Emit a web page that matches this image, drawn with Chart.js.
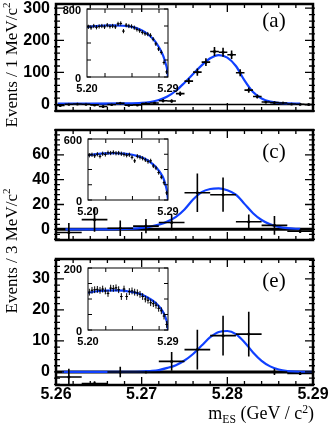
<!DOCTYPE html>
<html>
<head>
<meta charset="utf-8">
<script src="https://cdn.jsdelivr.net/npm/chart.js@4.4.0/dist/chart.umd.min.js"></script>
<style>
body { margin: 0; background: #fff; }
#wrap { position: relative; width: 332px; height: 429px; overflow: hidden; font-family: 'Liberation Serif', serif; }
canvas { position: absolute; }
.txt { position: absolute; white-space: nowrap; line-height: 1; color: #000; }
.rot { transform: translate(-50%, -50%) rotate(-90deg); font-size: 17px; }
.lab { transform: translate(-50%, -50%); font-size: 21px; }
sup { font-size: 0.65em; vertical-align: 0.55em; line-height: 0; }
sub { font-size: 0.65em; vertical-align: -0.3em; line-height: 0; }
</style>
</head>
<body>
<div id="wrap">
  <canvas id="mainA"></canvas>
  <canvas id="mainC"></canvas>
  <canvas id="mainE"></canvas>
  <canvas id="insetA"></canvas>
  <canvas id="insetC"></canvas>
  <canvas id="insetE"></canvas>
  <div class="txt rot" style="left:11px;top:65px">Events / 1 MeV/c<sup>2</sup></div>
  <div class="txt rot" style="left:11px;top:251px">Events / 3 MeV/c<sup>2</sup></div>
  <div class="txt lab" style="left:274px;top:20px">(a)</div>
  <div class="txt lab" style="left:274px;top:151px">(c)</div>
  <div class="txt lab" style="left:274px;top:280px">(e)</div>
  <div class="txt" style="right:18px;top:404px;font-size:18px">m<sub>ES</sub> (GeV / c<sup>2</sup>)</div>
</div>
<script>
// x axis of the main panels
const xTickVals = [5.26, 5.27, 5.28, 5.29];
const xTickLabels = ['5.26', '5.27', '5.28', '5.29'];

// panel (a): 1 MeV bins
const binsA = [5.2605, 5.2615, 5.2625, 5.2635, 5.2645, 5.2655, 5.2665, 5.2675, 5.2685, 5.2695,
               5.2705, 5.2715, 5.2725, 5.2735, 5.2745, 5.2755, 5.2765, 5.2775, 5.2785, 5.2795,
               5.2805, 5.2815, 5.2825, 5.2835, 5.2845, 5.2855, 5.2865, 5.2875, 5.2885, 5.2895];
const countsA = [-3, 1, 2, 1, -1, -6, 0, 4, -2, -1, 3, 5, 12, 11, 34, 73, 101, 132, 165, 163,
                 155, 99, 45, 25, 8, 6, 5, 2, 1, 0];
const errA = [3, 3, 3, 3, 3, 3, 3, 4, 3, 3, 4, 4, 5, 5, 7, 9, 11, 12, 14, 14,
              13, 11, 8, 6, 4, 4, 3, 3, 3, 2];
const fitXA = [5.2602, 5.264, 5.268, 5.270, 5.271, 5.272, 5.273, 5.274, 5.275, 5.276, 5.277,
               5.278, 5.279, 5.280, 5.281, 5.282, 5.283, 5.284, 5.285, 5.286, 5.287, 5.2885];
const fitYA = [3, 3, 3.5, 5, 8, 14, 25, 43, 68, 95, 122, 144, 154, 146, 120, 75, 39, 19, 9, 5, 3.5, 3];
const yTicksA = [0, 100, 200, 300];
const yLabelsA = ['0', '100', '200', '300'];

// panels (c) and (e): 3 MeV bins
const binsCE = [5.2615, 5.2645, 5.2675, 5.2705, 5.2735, 5.2765, 5.2795, 5.2825, 5.2855, 5.2885];
const countsC = [-2.5, 7.8, 0.9, 2.6, 5.5, 29.5, 27.9, 6.1, 3.2, -1.5];
const errC = [7.5, 9.8, 6.3, 5.8, 6.3, 15.5, 13.8, 5.8, 7.5, 1.5];
const fitXC = [5.2611, 5.266, 5.269, 5.270, 5.271, 5.272, 5.273, 5.274, 5.275, 5.276, 5.277,
               5.278, 5.279, 5.280, 5.281, 5.282, 5.283, 5.284, 5.285, 5.286, 5.287, 5.2885];
const fitYC = [0, 0, 0.6, 1.2, 2.2, 3.8, 6.2, 10, 16, 24, 30, 32.5, 33, 31.5, 28, 20.5, 13, 7.5, 4, 2, 0.9, 0.3];
const yTicksC = [0, 20, 40, 60];
const yLabelsC = ['0', '20', '40', '60'];

const countsE = [-1.6, -3.7, 0, 0, 3.4, 7.2, 11.7, 12.2, 0, -0.5];
const errE = [2.6, 0.7, 1.7, 0.3, 3, 6.4, 6.4, 7.2, 1, 0.5];
const fitXE = [5.2607, 5.266, 5.270, 5.271, 5.272, 5.273, 5.274, 5.275, 5.276, 5.277, 5.278,
               5.279, 5.280, 5.281, 5.282, 5.283, 5.284, 5.285, 5.286, 5.287, 5.288, 5.29];
const fitYE = [0, 0, 0.1, 0.3, 0.6, 1.3, 2.2, 3.7, 5.8, 8.5, 11.2, 12.9, 13.2, 12.2, 9.6, 6.3, 3.6, 1.8, 0.8, 0.3, 0.1, 0];
const yTicksE = [0, 10, 20, 30];
const yLabelsE = ['0', '10', '20', '30'];

// insets: wide mES range, 3 MeV bins
const insetBins = [5.2015, 5.2045, 5.2075, 5.2105, 5.2135, 5.2165, 5.2195, 5.2225, 5.2255, 5.2285,
                   5.2315, 5.2345, 5.2375, 5.2405, 5.2435, 5.2465, 5.2495, 5.2525, 5.2555, 5.2585,
                   5.2615, 5.2645, 5.2675, 5.2705, 5.2735, 5.2765, 5.2795, 5.2825, 5.2855, 5.2885];
const insetCountsA = [590, 580, 600, 585, 595, 600, 590, 610, 595, 600, 590, 625, 630, 540, 610,
                      600, 595, 580, 560, 545, 525, 510, 505, 490, 445, 390, 330, 290, 170, 60];
const insetCountsC = [440, 445, 435, 450, 430, 455, 448, 465, 462, 468, 460, 462, 455, 448, 440,
                      445, 420, 385, 430, 420, 410, 395, 378, 385, 335, 315, 270, 225, 170, 70];
const insetCountsE = [122, 128, 130, 131, 128, 132, 126, 118, 135, 134, 136, 130, 108, 132, 108,
                      124, 126, 122, 120, 115, 108, 100, 96, 88, 85, 80, 70, 62, 45, 18];
const insetFitX = [5.20, 5.21, 5.22, 5.23, 5.24, 5.25, 5.255, 5.26, 5.265, 5.27, 5.275, 5.28,
                   5.283, 5.285, 5.287, 5.289, 5.29];
const insetFitA = [588, 600, 606, 607, 603, 590, 575, 552, 522, 482, 428, 350, 290, 240, 172, 90, 0];
const insetFitC = [440, 452, 458, 460, 457, 445, 434, 420, 400, 372, 336, 285, 245, 210, 155, 80, 0];
const insetFitE = [120, 125, 127, 128, 127, 122, 119, 115, 108, 100, 90, 76, 65, 55, 42, 22, 0];
const insetXTicks = [5.20, 5.29];
const insetXLabels = ['5.20', '5.29'];

const BLUE = '#1040ff';
const SANS = 'Liberation Sans';

function pts(xs, ys) {
    return xs.map((x, i) => ({ x: x, y: ys[i] }));
}

function place(id, left, top, w, h) {
    const c = document.getElementById(id);
    c.width = w;
    c.height = h;
    c.style.left = left + 'px';
    c.style.top = top + 'px';
    c.style.width = w + 'px';
    c.style.height = h + 'px';
    return c;
}

function tickLoop(min, max, step, fn) {
    const n0 = Math.ceil(min / step - 1e-6), n1 = Math.floor(max / step + 1e-6);
    for (let n = n0; n <= n1; n++) fn(n * step);
}

// frame, inward ticks and zero line (ROOT style)
const framePlugin = {
    id: 'frame',
    beforeDatasetsDraw(chart, args, o) {
        if (!o.zeroWidth) return;
        const { ctx, chartArea: a, scales: { y } } = chart;
        const py = y.getPixelForValue(0);
        ctx.save();
        ctx.strokeStyle = '#000';
        ctx.lineWidth = o.zeroWidth;
        ctx.beginPath();
        ctx.moveTo(a.left, py);
        ctx.lineTo(a.right, py);
        ctx.stroke();
        ctx.restore();
    },
    afterDraw(chart, args, o) {
        const { ctx, chartArea: a, scales: { x, y } } = chart;
        ctx.save();
        ctx.strokeStyle = '#000';
        ctx.lineWidth = o.tickWidth;
        ctx.beginPath();
        [[o.xMinor, o.minorLen], [o.xMajor, o.majorLen]].forEach(([step, len]) => {
            if (!step) return;
            tickLoop(x.min, x.max, step, v => {
                const px = x.getPixelForValue(v);
                ctx.moveTo(px, a.bottom); ctx.lineTo(px, a.bottom - len);
                ctx.moveTo(px, a.top); ctx.lineTo(px, a.top + len);
            });
        });
        [[o.yMinor, o.minorLen], [o.yMajor, o.majorLen]].forEach(([step, len]) => {
            if (!step) return;
            tickLoop(y.min, y.max, step, v => {
                const py = y.getPixelForValue(v);
                ctx.moveTo(a.left - o.outLen, py); ctx.lineTo(a.left + len, py);
                ctx.moveTo(a.right + o.outLen, py); ctx.lineTo(a.right - len, py);
            });
        });
        ctx.stroke();
        ctx.lineWidth = o.frameWidth;
        ctx.strokeRect(a.left, a.top, a.width, a.height);
        ctx.restore();
    }
};

// crosses: bin width horizontally, error vertically
const errorBarPlugin = {
    id: 'errorBars',
    afterDatasetsDraw(chart) {
        const { ctx, chartArea: a, scales: { x, y } } = chart;
        ctx.save();
        ctx.beginPath();
        ctx.rect(a.left, a.top, a.width, a.height);
        ctx.clip();
        chart.data.datasets.forEach(ds => {
            if (ds.errY === undefined) return;
            ctx.strokeStyle = '#000';
            ctx.lineWidth = ds.errLine;
            ctx.beginPath();
            ds.data.forEach((p, i) => {
                const e = Array.isArray(ds.errY) ? ds.errY[i] : ds.errY;
                const px = x.getPixelForValue(p.x), py = y.getPixelForValue(p.y);
                ctx.moveTo(x.getPixelForValue(p.x - ds.halfBin), py);
                ctx.lineTo(x.getPixelForValue(p.x + ds.halfBin), py);
                ctx.moveTo(px, y.getPixelForValue(p.y - e));
                ctx.lineTo(px, y.getPixelForValue(p.y + e));
            });
            ctx.stroke();
        });
        ctx.restore();
    }
};

function datasets(fx, fy, bx, by, err, halfBin, errLine, dot) {
    return [
        { type: 'line', data: pts(fx, fy), borderColor: BLUE, borderWidth: 2.2, pointRadius: 0,
          fill: false, cubicInterpolationMode: 'monotone' },
        { data: pts(bx, by), errY: err, halfBin: halfBin, errLine: errLine,
          pointRadius: dot, pointBackgroundColor: '#000', pointBorderWidth: 0 }
    ];
}

function mainPanel(id, pos, d) {
    const c = place(id, 0, pos.top, 332, pos.h);
    return new Chart(c, {
        type: 'scatter',
        data: { datasets: datasets(d.fitX, d.fitY, d.bins, d.counts, d.errs, d.halfBin, 1.6, 1.5) },
        options: {
            responsive: false,
            animation: false,
            events: [],
            layout: { padding: { left: 0, right: 19, top: pos.padTop, bottom: pos.padBottom } },
            plugins: {
                legend: { display: false },
                tooltip: { enabled: false },
                frame: { xMajor: 0.01, xMinor: 0.002, yMajor: d.yStep, yMinor: d.yStep / 5,
                         majorLen: 8, minorLen: 4, outLen: 2, tickWidth: 1.3, frameWidth: 2.5,
                         zeroWidth: d.zeroWidth }
            },
            scales: {
                x: {
                    type: 'linear', min: 5.26, max: 5.29, display: d.showX,
                    grid: { display: false, drawTicks: false }, border: { display: false },
                    ticks: { autoSkip: false, maxRotation: 0, padding: 0, color: '#000',
                             font: { family: SANS, weight: 'bold', size: 16 },
                             callback: (v, i) => xTickLabels[i] },
                    afterBuildTicks: ax => { ax.ticks = xTickVals.map(v => ({ value: v })); },
                    afterFit: ax => { ax.height = 18; ax.paddingLeft = 0; ax.paddingRight = 0; }
                },
                y: {
                    type: 'linear', min: d.yMin, max: d.yMax,
                    grid: { display: false, drawTicks: false }, border: { display: false },
                    ticks: { autoSkip: false, padding: 6, color: '#000',
                             font: { family: SANS, weight: 'bold', size: 16 },
                             callback: (v, i) => d.yLabels[i] },
                    afterBuildTicks: ax => { ax.ticks = d.yTicks.map(v => ({ value: v })); },
                    afterFit: ax => { ax.width = 56; ax.paddingTop = 0; ax.paddingBottom = 0; }
                }
            }
        },
        plugins: [framePlugin, errorBarPlugin]
    });
}

function insetPanel(id, box, d) {
    const padL = 30, padR = 16, padT = 6, xh = 20;
    const w = box.x1 - box.x0 + padL + padR, h = box.y1 - box.y0 + padT + xh;
    const c = place(id, box.x0 - padL, box.y0 - padT, w, h);
    return new Chart(c, {
        type: 'scatter',
        data: { datasets: datasets(insetFitX, d.fitY, insetBins, d.counts, d.err, 0.0015, 1, 0.8) },
        options: {
            responsive: false,
            animation: false,
            events: [],
            layout: { padding: { left: 0, right: padR, top: padT, bottom: 0 } },
            plugins: {
                legend: { display: false },
                tooltip: { enabled: false },
                frame: { xMajor: 0.03, xMinor: 0, yMajor: d.yStep, yMinor: 0,
                         majorLen: 4, minorLen: 0, outLen: 0, tickWidth: 1, frameWidth: 1,
                         zeroWidth: 0 }
            },
            scales: {
                x: {
                    type: 'linear', min: 5.20, max: 5.29,
                    grid: { display: false, drawTicks: false }, border: { display: false },
                    ticks: { autoSkip: false, maxRotation: 0, padding: 5, color: '#000',
                             font: { family: SANS, weight: 'bold', size: 11 },
                             callback: (v, i) => insetXLabels[i] },
                    afterBuildTicks: ax => { ax.ticks = insetXTicks.map(v => ({ value: v })); },
                    afterFit: ax => { ax.height = xh; ax.paddingLeft = 0; ax.paddingRight = 0; }
                },
                y: {
                    type: 'linear', min: 0, max: d.yMax,
                    grid: { display: false, drawTicks: false }, border: { display: false },
                    ticks: { autoSkip: false, padding: 6, labelOffset: 2, color: '#000',
                             font: { family: SANS, weight: 'bold', size: 11 },
                             callback: (v, i) => d.yLabels[i] },
                    afterBuildTicks: ax => { ax.ticks = [0, d.yMax].map(v => ({ value: v })); },
                    afterFit: ax => { ax.width = padL; ax.paddingTop = 0; ax.paddingBottom = 0; }
                }
            }
        },
        plugins: [framePlugin, errorBarPlugin]
    });
}

mainPanel('mainA', { top: 0, h: 131, padTop: 1, padBottom: 2 },
    { bins: binsA, counts: countsA, errs: errA, halfBin: 0.0005, fitX: fitXA, fitY: fitYA,
      yMin: -20, yMax: 313, yStep: 100, yTicks: yTicksA, yLabels: yLabelsA, zeroWidth: 1.5, showX: false });
mainPanel('mainC', { top: 126, h: 134, padTop: 3, padBottom: 2 },
    { bins: binsCE, counts: countsC, errs: errC, halfBin: 0.0015, fitX: fitXC, fitY: fitYC,
      yMin: -8.6, yMax: 80, yStep: 20, yTicks: yTicksC, yLabels: yLabelsC, zeroWidth: 3, showX: false });
mainPanel('mainE', { top: 255, h: 150, padTop: 3, padBottom: 2 },
    { bins: binsCE, counts: countsE, errs: errE, halfBin: 0.0015, fitX: fitXE, fitY: fitYE,
      yMin: -4.2, yMax: 36.4, yStep: 10, yTicks: yTicksE, yLabels: yLabelsE, zeroWidth: 3, showX: true });

insetPanel('insetA', { x0: 87, x1: 168, y0: 9, y1: 77 },
    { counts: insetCountsA, err: 25, fitY: insetFitA, yMax: 800, yStep: 200, yLabels: ['0', '800'] });
insetPanel('insetC', { x0: 88, x1: 168, y0: 139, y1: 200 },
    { counts: insetCountsC, err: 21, fitY: insetFitC, yMax: 600, yStep: 150, yLabels: ['0', '600'] });
insetPanel('insetE', { x0: 88, x1: 168, y0: 268, y1: 330 },
    { counts: insetCountsE, err: 11, fitY: insetFitE, yMax: 200, yStep: 50, yLabels: ['0', '200'] });
</script>
</body>
</html>
